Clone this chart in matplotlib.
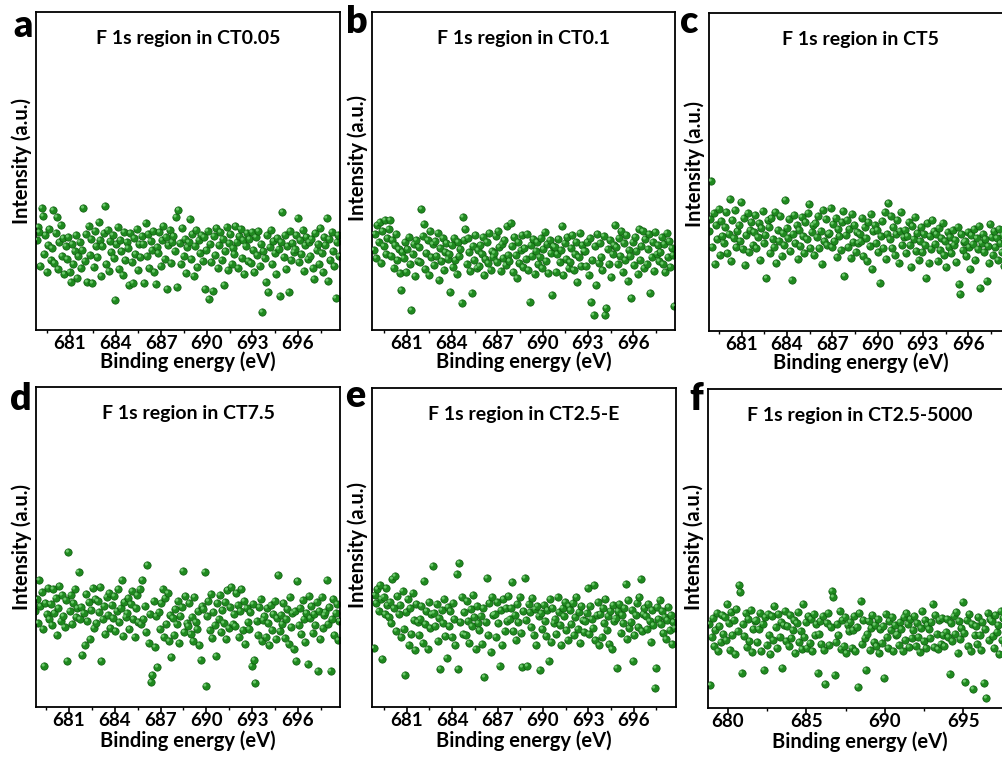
import numpy as np
import matplotlib
matplotlib.use("Agg")
from matplotlib import pyplot as plt
from matplotlib.transforms import offset_copy

plt.rcParams['font.family'] = ['Lato', 'DejaVu Sans']
plt.rcParams['font.weight'] = 'bold'

# binding energy grid (eV), 12 points per eV
energy = np.linspace(678.8, 698.8 - 1 / 12, 240)

# intensities (a.u.), one row per eV
ct005 = [
    90, 103, 98, 64, 122, 114, 76, 95, 58, 85, 101, 70,
    82, 120, 67, 97, 113, 61, 88, 105, 74, 92, 56, 84,
    71, 93, 58, 48, 86, 66, 79, 95, 52, 74, 88, 62,
    80, 122, 69, 96, 48, 104, 75, 91, 47, 63, 99, 84,
    73, 108, 90, 54, 84, 97, 124, 66, 100, 59, 89, 78,
    95, 72, 30, 86, 103, 61, 90, 79, 55, 98, 70, 88,
    82, 45, 97, 68, 47, 92, 76, 101, 60, 86, 73, 94,
    86, 47, 107, 74, 96, 62, 89, 80, 99, 58, 46, 83,
    77, 98, 64, 90, 104, 71, 93, 41, 85, 100, 67, 88,
    94, 79, 113, 43, 120, 87, 66, 102, 74, 91, 57, 83,
    88, 111, 71, 96, 54, 84, 100, 63, 90, 77, 95, 69,
    93, 41, 80, 99, 31, 86, 68, 39, 94, 75, 102, 62,
    85, 98, 70, 91, 45, 79, 103, 60, 87, 96, 66, 82,
    76, 104, 88, 62, 94, 101, 72, 90, 56, 84, 97, 69,
    91, 67, 98, 80, 58, 93, 75, 99, 64, 86, 18, 79,
    72, 48, 95, 38, 83, 100, 66, 89, 77, 56, 92, 81,
    34, 88, 118, 73, 95, 61, 84, 38, 99, 70, 87, 78,
    81, 95, 112, 68, 90, 76, 100, 59, 85, 93, 71, 88,
    74, 91, 62, 51, 97, 80, 86, 66, 102, 77, 58, 93,
    85, 112, 49, 91, 70, 98, 79, 64, 32, 88, 95, 74,
]

ct01 = [
    80, 96, 72, 105, 88, 108, 67, 99, 84, 110, 76, 92,
    101, 110, 74, 90, 62, 85, 96, 70, 81, 57, 40, 78,
    72, 88, 58, 81, 93, 66, 20, 76, 86, 54, 90, 69,
    83, 68, 121, 94, 106, 61, 77, 90, 55, 99, 73, 86,
    65, 89, 74, 97, 50, 82, 69, 92, 60, 78, 87, 71,
    76, 38, 85, 63, 92, 70, 56, 88, 74, 81, 27, 113,
    90, 101, 66, 92, 78, 59, 37, 84, 70, 95, 62, 80,
    64, 85, 76, 93, 55, 71, 88, 67, 97, 60, 79, 73,
    77, 94, 68, 99, 83, 59, 86, 72, 90, 65, 104, 75,
    69, 107, 84, 58, 93, 75, 52, 88, 67, 80, 95, 63,
    82, 71, 96, 60, 28, 85, 74, 91, 56, 79, 88, 66,
    73, 92, 62, 81, 98, 69, 86, 57, 90, 77, 35, 84,
    83, 58, 76, 91, 68, 80, 104, 55, 87, 71, 93, 62,
    68, 82, 95, 60, 76, 88, 48, 73, 97, 64, 85, 79,
    79, 64, 88, 55, 92, 28, 70, 15, 84, 45, 96, 67,
    87, 73, 60, 94, 15, 22, 81, 66, 90, 53, 76, 85,
    105, 83, 66, 92, 74, 99, 58, 87, 70, 95, 49, 80,
    74, 32, 88, 65, 93, 79, 56, 101, 70, 84, 99, 62,
    91, 66, 81, 96, 37, 73, 88, 59, 98, 76, 85, 69,
    78, 93, 66, 86, 58, 97, 73, 89, 63, 82, 75, 24,
]

ct5 = [
    100, 112, 150, 84, 118, 67, 106, 92, 122, 76, 110, 95,
    88, 104, 119, 78, 97, 132, 70, 111, 93, 121, 84, 100,
    106, 90, 129, 82, 113, 66, 96, 118, 79, 101, 109, 86,
    99, 116, 83, 94, 108, 71, 103, 120, 88, 96, 53, 111,
    104, 78, 113, 92, 84, 119, 68, 101, 90, 115, 75, 98,
    86, 131, 103, 93, 112, 80, 51, 97, 116, 88, 106, 72,
    101, 85, 114, 95, 78, 109, 92, 118, 127, 83, 99, 106,
    76, 108, 94, 115, 83, 100, 67, 121, 90, 112, 86, 97,
    98, 123, 84, 107, 90, 113, 74, 102, 95, 81, 109, 120,
    55, 96, 111, 84, 102, 73, 117, 89, 106, 79, 99, 88,
    97, 90, 113, 75, 104, 93, 70, 109, 85, 117, 62, 100,
    106, 88, 101, 79, 48, 95, 110, 83, 119, 72, 97, 128,
    92, 115, 83, 104, 76, 97, 111, 68, 100, 119, 86, 94,
    101, 78, 95, 109, 86, 64, 105, 92, 114, 80, 98, 71,
    90, 104, 79, 97, 86, 53, 108, 68, 95, 82, 111, 100,
    87, 97, 70, 103, 81, 93, 108, 76, 90, 64, 99, 84,
    94, 78, 101, 86, 91, 69, 104, 47, 37, 97, 81, 89,
    90, 75, 99, 84, 62, 96, 87, 102, 71, 93, 82, 105,
    43, 88, 97, 79, 92, 50, 85, 68, 107, 94, 76, 100,
    84, 93, 71, 102, 88, 79, 96, 65, 90, 83, 98, 75,
]

ct75 = [
    96, 108, 84, 127, 101, 115, 78, 41, 104, 93, 119, 88,
    103, 82, 118, 94, 109, 72, 99, 121, 86, 112, 91, 80,
    107, 46, 155, 96, 112, 83, 104, 118, 90, 99, 135, 88,
    100, 52, 94, 62, 113, 86, 105, 68, 97, 119, 79, 108,
    84, 106, 95, 120, 46, 88, 101, 73, 110, 92, 114, 79,
    102, 89, 111, 76, 96, 118, 85, 99, 127, 71, 105, 90,
    94, 109, 78, 103, 116, 88, 70, 99, 112, 85, 118, 83,
    127, 88, 101, 75, 142, 64, 93, 25, 32, 106, 60, 91,
    40, 95, 78, 104, 118, 70, 109, 83, 114, 66, 92, 50,
    89, 72, 98, 83, 106, 64, 91, 100, 136, 75, 111, 84,
    81, 104, 73, 90, 66, 110, 85, 78, 96, 62, 47, 101,
    98, 135, 21, 91, 106, 77, 113, 69, 95, 82, 51, 104,
    88, 112, 75, 97, 84, 105, 68, 117, 79, 100, 120, 83,
    93, 81, 114, 102, 70, 96, 118, 77, 106, 63, 99, 85,
    78, 95, 41, 103, 47, 24, 86, 72, 100, 108, 66, 87,
    91, 70, 99, 84, 62, 102, 77, 93, 106, 68, 89, 132,
    76, 92, 83, 104, 69, 88, 98, 63, 110, 80, 94, 58,
    96, 46, 126, 82, 99, 73, 107, 88, 65, 94, 43, 111,
    89, 101, 74, 93, 82, 105, 36, 96, 68, 110, 79, 92,
    95, 127, 83, 100, 36, 88, 108, 72, 94, 103, 67, 86,
]

ct25_e = [
    59, 112, 104, 118, 96, 122, 108, 48, 110, 93, 119, 102,
    90, 105, 84, 128, 99, 131, 76, 111, 93, 102, 70, 116,
    78, 32, 95, 108, 62, 99, 73, 114, 87, 57, 103, 85,
    72, 88, 101, 64, 126, 83, 96, 58, 105, 79, 93, 141,
    94, 81, 103, 66, 89, 38, 97, 84, 108, 71, 49, 100,
    81, 96, 70, 104, 88, 62, 133, 38, 144, 85, 110, 73,
    95, 72, 106, 86, 64, 98, 81, 112, 90, 58, 101, 84,
    77, 91, 63, 99, 30, 85, 129, 72, 104, 55, 110, 92,
    93, 70, 105, 84, 41, 97, 62, 108, 76, 99, 86, 111,
    88, 99, 125, 76, 92, 67, 103, 85, 110, 74, 40, 96,
    129, 87, 41, 103, 95, 80, 109, 72, 98, 62, 101, 91,
    37, 94, 78, 102, 86, 71, 97, 46, 108, 65, 99, 84,
    88, 73, 110, 95, 82, 62, 99, 91, 105, 77, 67, 101,
    97, 83, 104, 72, 90, 110, 78, 95, 64, 101, 87, 75,
    86, 94, 119, 73, 101, 88, 79, 122, 67, 92, 105, 62,
    93, 70, 99, 84, 108, 77, 91, 63, 96, 58, 102, 86,
    89, 39, 96, 103, 74, 92, 84, 99, 123, 68, 107, 79,
    85, 97, 46, 72, 92, 104, 80, 110, 128, 76, 93, 99,
    91, 78, 103, 86, 65, 97, 82, 19, 39, 100, 88, 107,
    83, 96, 74, 90, 68, 87, 100, 77, 92, 63, 85, 79,
]

ct25_5000 = [
    84, 23, 71, 90, 62, 78, 95, 57, 82, 66, 93, 74,
    91, 68, 104, 85, 58, 96, 73, 88, 54, 99, 77, 123,
    116, 35, 84, 72, 95, 61, 89, 67, 98, 56, 79, 87,
    88, 66, 79, 95, 57, 84, 38, 91, 63, 94, 73, 54,
    92, 68, 102, 81, 60, 94, 71, 86, 40, 83, 97, 67,
    82, 62, 93, 70, 78, 88, 55, 85, 96, 66, 77, 59,
    104, 71, 86, 60, 92, 65, 89, 57, 94, 73, 84, 35,
    74, 87, 64, 92, 58, 24, 85, 95, 63, 81, 117, 111,
    33, 66, 84, 73, 97, 59, 88, 62, 91, 55, 83, 77,
    86, 60, 78, 92, 57, 81, 21, 95, 107, 64, 88, 70,
    38, 74, 87, 58, 80, 93, 66, 83, 62, 89, 55, 79,
    65, 82, 30, 94, 71, 60, 87, 78, 91, 57, 83, 73,
    74, 63, 86, 79, 57, 91, 68, 95, 84, 61, 89, 70,
    78, 92, 62, 85, 71, 56, 80, 97, 67, 88, 60, 83,
    79, 70, 86, 104, 61, 93, 74, 59, 88, 64, 90, 73,
    62, 76, 89, 71, 34, 85, 67, 92, 74, 96, 55, 87,
    69, 80, 106, 75, 26, 88, 62, 94, 57, 84, 19, 73,
    82, 64, 91, 73, 58, 86, 25, 79, 10, 95, 68, 89,
    87, 72, 60, 93, 76, 83, 54, 97, 68, 90, 63, 85,
    75, 84, 62, 91, 70, 79, 86, 57, 81, 73, 92, 64,
]

letters = ['a', 'b', 'c', 'd', 'e', 'f']
titles = ['F 1s region in CT0.05', 'F 1s region in CT0.1', 'F 1s region in CT5',
          'F 1s region in CT7.5', 'F 1s region in CT2.5-E', 'F 1s region in CT2.5-5000']
series = [ct005, ct01, ct5, ct75, ct25_e, ct25_5000]

W, H = 1002, 759
# axes boxes in pixels: left, top, width, height
boxes = [(36, 12, 304, 318), (372, 12, 303, 318), (709, 13, 303, 318),
         (36, 387, 304, 320), (372, 388, 304, 319), (708, 389, 303, 319)]
xlims = [(678.76, 698.76), (678.7, 698.77), (678.83, 698.9),
         (678.85, 698.75), (678.7, 698.8), (678.74, 698.04)]
letter_pos = [(23, 37), (357, 33), (689, 33), (21, 410), (355, 407), (696, 410)]
ylabel_y = [0.53, 0.54, 0.525, 0.50, 0.508, 0.505]
xlabel_gap = [32, 32, 32, 34, 34, 34]  # px from bottom spine to xlabel centre

fig = plt.figure(figsize=(W / 100, H / 100), dpi=100)

for i in range(6):
    l, t, w, h = boxes[i]
    ax = fig.add_axes([l / W, 1 - (t + h) / H, w / W, h / H])
    y = np.array(series[i], dtype=float)

    # shaded green spheres: dark body + light highlight
    ax.scatter(energy, y, s=28, color='#1f8a1f', edgecolors='#0d5a0d', linewidths=0.5, zorder=2)
    hl = offset_copy(ax.transData, fig=fig, x=-1.0, y=1.0, units='dots')
    ax.scatter(energy, y, s=5, color='#7fd67f', edgecolors='none', alpha=0.8,
               transform=hl, zorder=3)

    ax.set_xlim(*xlims[i])
    ax.set_ylim(0, h)

    if i < 5:
        ax.set_xticks(np.arange(681, 697, 3))
        ax.set_xticks(np.arange(679.5, 698.6, 3), minor=True)
    else:
        ax.set_xticks([680, 685, 690, 695])
        ax.set_xticks([682.5, 687.5, 692.5, 697.5], minor=True)

    ax.set_yticks([])
    ax.tick_params(axis='x', which='major', direction='out', length=3.5, width=1.2,
                   labelsize=13.5, pad=0)
    ax.tick_params(axis='x', which='minor', direction='out', length=2.5, width=1.0)
    for lab in ax.get_xticklabels():
        lab.set_fontweight('bold')
    for sp in ax.spines.values():
        sp.set_linewidth(1.3)

    ax.set_xlabel('Binding energy (eV)', fontsize=14.5, fontweight='bold', va='center')
    ax.xaxis.set_label_coords(0.5, -xlabel_gap[i] / h)
    ax.set_ylabel('Intensity (a.u.)', fontsize=14.5, fontweight='bold')
    ax.yaxis.set_label_coords(-0.012, ylabel_y[i])
    ax.text(0.5, 0.918, titles[i], transform=ax.transAxes, ha='center', va='center',
            fontsize=14, fontweight='bold')

    lx, ly = letter_pos[i]
    fig.text(lx / W, 1 - ly / H, letters[i], ha='center', va='baseline',
             fontsize=27, fontweight='heavy')

fig.savefig('out.png', dpi=100)
